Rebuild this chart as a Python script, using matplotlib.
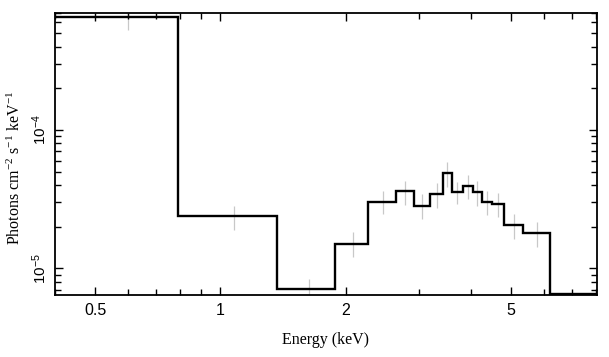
import numpy as np
import matplotlib
matplotlib.use("Agg")
import matplotlib.pyplot as plt
from matplotlib.ticker import LogLocator, FixedLocator, FixedFormatter, NullFormatter

plt.rcParams['mathtext.fontset'] = 'custom'
plt.rcParams['mathtext.rm'] = 'Liberation Serif'
plt.rcParams['mathtext.sf'] = 'Liberation Sans'
plt.rcParams['mathtext.it'] = 'Liberation Serif:italic'

# Step spectrum (bin edges in keV, flux per bin)
bin_edges = [0.4, 0.79, 1.365, 1.89, 2.265, 2.645, 2.917, 3.19, 3.43, 3.60,
             3.83, 4.04, 4.25, 4.51, 4.81, 5.35, 6.21, 8.0]
flux = [6.62e-4, 2.38e-5, 7.05e-6, 1.51e-5, 3.04e-5, 3.61e-5, 2.83e-5, 3.44e-5,
        4.91e-5, 3.54e-5, 3.95e-5, 3.56e-5, 3.04e-5, 2.94e-5, 2.06e-5, 1.79e-5, 6.52e-6]

# Error bars (gray) at bin centres
err_x = [0.60, 1.08, 1.63, 2.08, 2.455, 2.78, 3.05, 3.31, 3.515, 3.715,
         3.935, 4.145, 4.38, 4.66, 5.08, 5.78]
err_lo = [5.3e-4, 1.88e-5, 5.5e-6, 1.21e-5, 2.46e-5, 2.85e-5, 2.26e-5, 2.72e-5,
          3.89e-5, 2.91e-5, 3.18e-5, 2.83e-5, 2.41e-5, 2.33e-5, 1.63e-5, 1.43e-5]
err_hi = [8.5e-4, 2.83e-5, 8.43e-6, 1.82e-5, 3.64e-5, 4.30e-5, 3.42e-5, 4.11e-5,
          5.86e-5, 4.20e-5, 4.72e-5, 4.27e-5, 3.61e-5, 3.52e-5, 2.49e-5, 2.17e-5]

xtick_vals = [0.5, 1, 2, 5]
xtick_labels = ["0.5", "1", "2", "5"]
ytick_vals = [1e-5, 1e-4]
ytick_labels = [r"$\mathsf{10^{-5}}$", r"$\mathsf{10^{-4}}$"]

fig = plt.figure(figsize=(6.09, 3.57), dpi=100)
ax = fig.add_axes([55/609, 1-295/357, (597-55)/609, (295-13)/357])

ax.vlines(err_x, err_lo, err_hi, color='#c8c8c8', lw=0.9, zorder=1)
ax.stairs(flux, bin_edges, color='black', lw=1.7, zorder=2, baseline=None)

ax.set_xscale('log')
ax.set_yscale('log')
ax.set_xlim(0.4, 8.05)
ax.set_ylim(6.41e-6, 7.02e-4)

ax.xaxis.set_major_locator(FixedLocator(xtick_vals))
ax.xaxis.set_major_formatter(FixedFormatter(xtick_labels))
ax.xaxis.set_minor_locator(LogLocator(base=10, subs=np.arange(2, 10) * 1.0, numticks=20))
ax.xaxis.set_minor_formatter(NullFormatter())
ax.yaxis.set_major_locator(FixedLocator(ytick_vals))
ax.yaxis.set_major_formatter(FixedFormatter(ytick_labels))
ax.yaxis.set_minor_locator(LogLocator(base=10, subs=np.arange(2, 10) * 1.0, numticks=20))
ax.yaxis.set_minor_formatter(NullFormatter())

ax.tick_params(which='both', direction='in', top=True, right=True, width=1.0, color='black')
ax.tick_params(which='major', length=6)
ax.tick_params(which='minor', length=4)
ax.tick_params(axis='x', labelsize=11.5, pad=6)
ax.tick_params(axis='y', labelsize=11, pad=4)
for lab in ax.get_xticklabels():
    lab.set_fontfamily('Liberation Sans')
for lab in ax.get_yticklabels():
    lab.set_rotation(90)
    lab.set_va('center')

for s in ax.spines.values():
    s.set_linewidth(1.3)

ax.set_xlabel("Energy (keV)", fontfamily='Liberation Serif', fontsize=11.5, labelpad=10)
ax.set_ylabel(r"Photons cm$^{-2}$ s$^{-1}$ keV$^{-1}$", fontfamily='Liberation Serif',
              fontsize=11.5, labelpad=2)
ax.yaxis.set_label_coords(-0.058, 0.45)

fig.savefig("out.png", dpi=100)
